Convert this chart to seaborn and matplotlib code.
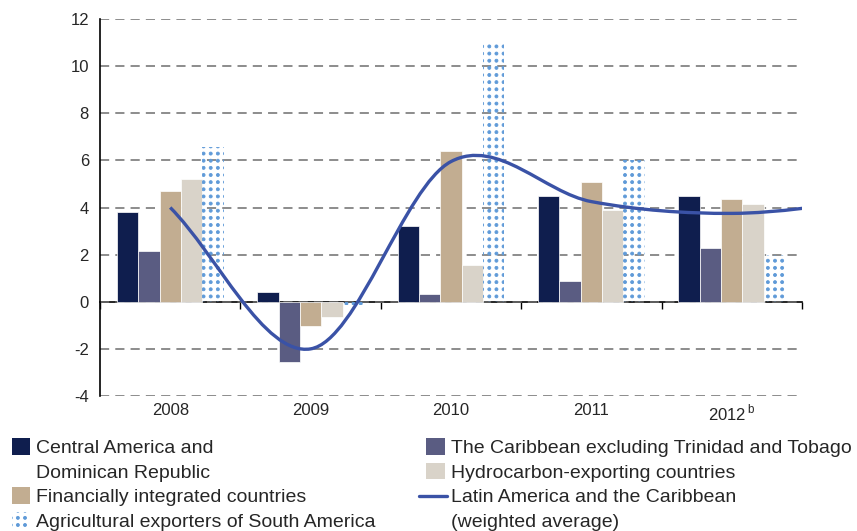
import numpy as np
import pandas as pd
import matplotlib
matplotlib.use("Agg")
import matplotlib.pyplot as plt
import matplotlib.hatch as mhatch
from matplotlib.path import Path
from matplotlib.patches import PathPatch, Patch
from matplotlib.lines import Line2D
from matplotlib.legend_handler import HandlerBase
import seaborn as sns

# ---------------- data ----------------
years = ["2008", "2009", "2010", "2011", "2012"]
year_labels = ["2008", "2009", "2010", "2011", "2012$^{\\,\\mathrm{b}}$"]
central_america = [3.8, 0.4, 3.2, 4.5, 4.5]
caribbean = [2.15, -2.55, 0.35, 0.9, 2.3]
financial = [4.7, -1.05, 6.4, 5.1, 4.35]
hydrocarbon = [5.2, -0.65, 1.55, 3.9, 4.15]
agricultural = [6.55, -0.15, 11.0, 6.0, 2.0]
# weighted average (last value lies beyond the visible range, continuing the curve)
lac_average = [4.0, -2.0, 5.95, 4.25, 3.75, 4.3]

series_names = [
    "Central America and Dominican Republic",
    "The Caribbean excluding Trinidad and Tobago",
    "Financially integrated countries",
    "Hydrocarbon-exporting countries",
    "Agricultural exporters of South America",
]
series_values = [central_america, caribbean, financial, hydrocarbon, agricultural]
colors = ["#0f1e4e", "#5a5c82", "#c2ad91", "#d9d3c9", "#5f9ad8"]
line_color = "#3a52a6"

# ---------------- square dot hatch ----------------
class GridDots(mhatch.HatchPatternBase):
    def __init__(self, hatch, density):
        self.n = hatch.count('.') * 7
        circ = Path.unit_circle()
        self.sv = circ.vertices
        self.sc = circ.codes
        self.num_vertices = self.n * self.n * len(self.sv) if self.n else 0

    def set_vertices_and_codes(self, vertices, codes):
        off = 1.0 / self.n
        sv = self.sv * (0.21 * off)
        L = len(sv)
        cur = 0
        for i in range(self.n):
            for j in range(self.n):
                vertices[cur:cur + L] = sv + np.array([(i + 0.5) * off, (j + 0.5) * off])
                codes[cur:cur + L] = self.sc
                cur += L

mhatch._hatch_types = [h for h in mhatch._hatch_types
                       if h is not mhatch.SmallFilledCircles] + [GridDots]

sns.set_style("white")
plt.rcParams['font.family'] = ['Liberation Sans', 'DejaVu Sans']
plt.rcParams['mathtext.fontset'] = 'custom'
plt.rcParams['mathtext.rm'] = 'Liberation Sans'
plt.rcParams['hatch.linewidth'] = 0.6

rows = []
for name, vals in zip(series_names, series_values):
    for y, v in zip(years, vals):
        rows.append({"year": y, "series": name, "value": v})
df = pd.DataFrame(rows)

fig = plt.figure(figsize=(8.57, 5.31), dpi=100)
ax = fig.add_axes([100 / 857, 1 - 396 / 531, 702 / 857, 377 / 531])

sns.barplot(data=df, x="year", y="value", hue="series", hue_order=series_names,
            palette=colors, width=0.76, ax=ax, legend=False,
            edgecolor="white", linewidth=0.5, saturation=1)

# dotted agricultural bars
for p in ax.containers[4]:
    p.set_facecolor("none")
    p.set_edgecolor(colors[4])
    p.set_linewidth(0)
    p.set_hatch("..")

# smoothed weighted-average line (Catmull-Rom style bezier through the points)
xs = np.arange(len(lac_average), dtype=float)
ys = np.array(lac_average, dtype=float)
pts = np.column_stack([xs, ys])
ext = np.vstack([2 * pts[0] - pts[1], pts, 2 * pts[-1] - pts[-2]])
verts = [tuple(pts[0])]
codes = [Path.MOVETO]
for i in range(len(pts) - 1):
    p0, p1, p2, p3 = ext[i], ext[i + 1], ext[i + 2], ext[i + 3]
    c1 = p1 + (p2 - p0) / 6.0
    c2 = p2 - (p3 - p1) / 6.0
    verts += [tuple(c1), tuple(c2), tuple(p2)]
    codes += [Path.CURVE4] * 3
ax.add_patch(PathPatch(Path(verts, codes), fill=False, edgecolor=line_color,
                       linewidth=2.4, zorder=5, capstyle='butt'))

ax.set_xlim(-0.5, 4.5)
ax.set_ylim(-4, 12)
ax.set_yticks(np.arange(-4, 13, 2))
ax.set_yticklabels([str(v) for v in np.arange(-4, 13, 2)], fontsize=12)
ax.set_xticks(range(len(years)))
ax.set_xticklabels(year_labels, fontsize=12)
ax.tick_params(axis='x', length=0, pad=5)
ax.tick_params(axis='y', direction='out', length=5, width=1, color='black', pad=3)
ax.set_xlabel("")
ax.set_ylabel("")
ax.yaxis.grid(True, linestyle=(0, (6, 4)), color='#6e6e6e', linewidth=1.1)
ax.xaxis.grid(False)
ax.set_axisbelow(True)
for s in ['top', 'right', 'bottom']:
    ax.spines[s].set_visible(False)
ax.spines['left'].set_color('black')
ax.spines['left'].set_linewidth(1.2)

sec = ax.secondary_xaxis(0.25)
sec.set_xticks(np.arange(-0.5, 5, 1.0))
sec.set_xticklabels([])
sec.tick_params(direction='out', length=5, width=1, color='black')
sec.spines['bottom'].set_linewidth(1.2)
sec.spines['bottom'].set_color('black')

# ---------------- legend ----------------
class LongLine(HandlerBase):
    def create_artists(self, legend, orig_handle, xdescent, ydescent, width, height, fontsize, trans):
        y = height / 2 - ydescent
        ln = Line2D([-xdescent - 0.4 * width, -xdescent + 1.1 * width], [y, y],
                    color=orig_handle.get_color(), linewidth=orig_handle.get_linewidth(),
                    transform=trans)
        return [ln]

blank = Patch(facecolor='none', edgecolor='none')
h_ca = Patch(facecolor=colors[0], edgecolor='none')
h_car = Patch(facecolor=colors[1], edgecolor='none')
h_fin = Patch(facecolor=colors[2], edgecolor='none')
h_hyd = Patch(facecolor=colors[3], edgecolor='none')
h_agr = Patch(facecolor='none', edgecolor=colors[4], linewidth=0, hatch='..')
h_lac = Line2D([], [], color=line_color, linewidth=2.4)

handles = [h_ca, blank, h_fin, h_agr, h_car, h_hyd, h_lac, blank]
labels = ["Central America and", "Dominican Republic",
          "Financially integrated countries", "Agricultural exporters of South America",
          "The Caribbean excluding Trinidad and Tobago", "Hydrocarbon-exporting countries",
          "Latin America and the Caribbean", "(weighted average)"]
fig.legend(handles, labels, ncol=2, loc='upper left',
           bbox_to_anchor=(12 / 857, 1 - 438 / 531), frameon=False,
           fontsize=14, handlelength=0.95, handleheight=0.95, handletextpad=0.3,
           labelspacing=0.29, columnspacing=2.6, borderpad=0, borderaxespad=0,
           handler_map={Line2D: LongLine()})

fig.savefig("out.png", dpi=100)
